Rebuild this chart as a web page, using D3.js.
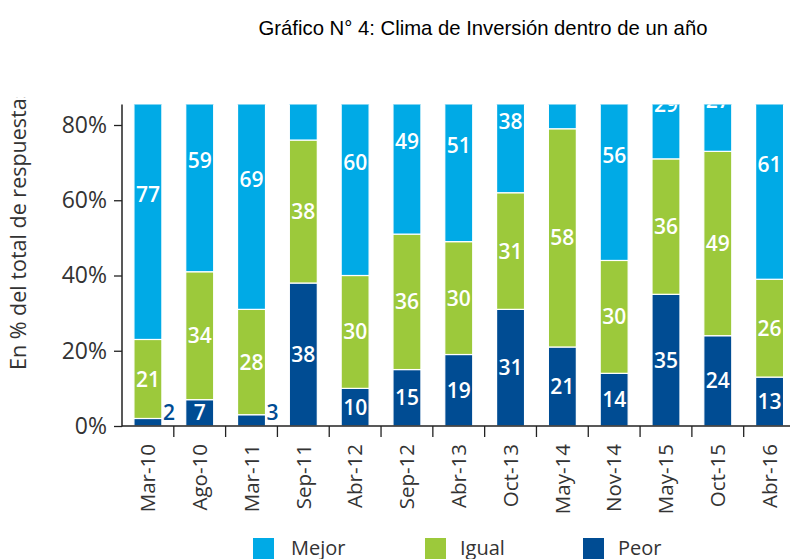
<!DOCTYPE html>
<html>
<head>
<meta charset="utf-8">
<style>
  body { margin: 0; background: #fff; }
  svg text { font-family: "Open Sans", "Noto Sans", sans-serif; }
  .title { font-family: "Liberation Sans", Arial, sans-serif !important; }
</style>
</head>
<body>
<svg id="chart" width="790" height="559"></svg>
<script src="https://cdn.jsdelivr.net/npm/d3@7"></script>
<script>
  // data
  var categories = ["Mar-10", "Ago-10", "Mar-11", "Sep-11", "Abr-12", "Sep-12", "Abr-13",
                    "Oct-13", "May-14", "Nov-14", "May-15", "Oct-15", "Abr-16"];
  var peor  = [2, 7, 3, 38, 10, 15, 19, 31, 21, 14, 35, 24, 13];
  var igual = [21, 34, 28, 38, 30, 36, 30, 31, 58, 30, 36, 49, 26];
  var mejor = [77, 59, 69, 24, 60, 49, 51, 38, 21, 56, 29, 27, 61];
  var seriesNames = ["Mejor", "Igual", "Peor"];
  var yTicks = [0, 20, 40, 60, 80];

  var colors = { Peor: "#004c93", Igual: "#9cc93b", Mejor: "#00aae6" };

  var svg = d3.select("#chart");

  var x = d3.scaleBand()
      .domain(categories)
      .range([122, 795.5])
      .paddingInner(0.46)
      .paddingOuter(0.23);

  var y = d3.scaleLinear()
      .domain([0, 100])
      .range([426, 426 - 376.25]);

  // stacked table, bottom to top: Peor, Igual, Mejor
  var rows = categories.map(function(c, i) {
      return { cat: c, Peor: peor[i], Igual: igual[i], Mejor: mejor[i] };
  });
  var stack = d3.stack().keys(["Peor", "Igual", "Mejor"])(rows);

  // title
  svg.append("text")
      .attr("class", "title")
      .attr("x", 483)
      .attr("y", 35)
      .attr("text-anchor", "middle")
      .attr("font-size", "20.3px")
      .attr("fill", "#000")
      .text("Gráfico N° 4: Clima de Inversión dentro de un año");

  var defs = svg.append("defs");
  defs.append("clipPath").attr("id", "plotclip")
    .append("rect").attr("x", 0).attr("y", 104.5).attr("width", 790).attr("height", 455);
  defs.append("clipPath").attr("id", "labclip")
    .append("rect").attr("x", 0).attr("y", 97).attr("width", 790).attr("height", 462);

  // y axis title (cut at the top like the reference)
  svg.append("g").attr("clip-path", "url(#labclip)")
    .append("text")
      .attr("transform", "translate(26,370) rotate(-90)")
      .attr("font-size", "21.5px")
      .attr("fill", "#333")
      .text("En % del total de respuestas");

  var plot = svg.append("g").attr("clip-path", "url(#plotclip)");

  // bars
  var layer = plot.selectAll(".layer")
      .data(stack)
    .enter().append("g")
      .attr("class", "layer")
      .attr("fill", function(d) { return colors[d.key]; });

  layer.selectAll("rect")
      .data(function(d) { return d; })
    .enter().append("rect")
      .attr("x", function(d) { return x(d.data.cat); })
      .attr("y", function(d) { return y(d[1]); })
      .attr("width", x.bandwidth())
      .attr("height", function(d) { return y(d[0]) - y(d[1]); })
      .attr("stroke", "#fff")
      .attr("stroke-width", 1.2);

  // value labels, small ones go outside the bar
  stack.forEach(function(s) {
      plot.selectAll(null)
          .data(s)
        .enter().append("text")
          .attr("font-size", "21px")
          .attr("font-weight", 600)
          .attr("fill", function(d) { return (d[1] - d[0]) < 5 ? colors.Peor : "#fff"; })
          .attr("text-anchor", function(d) { return (d[1] - d[0]) < 5 ? "start" : "middle"; })
          .attr("x", function(d) {
              return (d[1] - d[0]) < 5 ? x(d.data.cat) + x.bandwidth() + 1
                                       : x(d.data.cat) + x.bandwidth() / 2;
          })
          .attr("y", function(d) {
              return (d[1] - d[0]) < 5 ? 420 : y((d[0] + d[1]) / 2);
          })
          .attr("dy", function(d) { return (d[1] - d[0]) < 5 ? 0 : "0.36em"; })
          .text(function(d) { return d[1] - d[0]; });
  });

  // y axis
  var yAxis = svg.append("g")
      .attr("transform", "translate(122,0)")
      .call(d3.axisLeft(y).tickValues(yTicks).tickSize(8).tickPadding(7)
              .tickFormat(function(d) { return d + "%"; }));
  yAxis.select(".domain").attr("d", "M0,104.5V426.5");
  yAxis.selectAll("line").attr("stroke", "#222").attr("stroke-width", 1.3);
  yAxis.select(".domain").attr("stroke", "#222").attr("stroke-width", 1.5);
  yAxis.selectAll("text")
      .attr("font-family", "'Open Sans', sans-serif")
      .attr("font-size", "23px")
      .attr("fill", "#333");

  // x axis, ticks sit on band boundaries
  var step = x.step();
  var xAxis = svg.append("g")
      .attr("transform", "translate(0,426)")
      .call(d3.axisBottom(x).tickSize(11).tickPadding(8));
  xAxis.select(".domain").attr("d", "M122,0H790").attr("stroke", "#222").attr("stroke-width", 1.5);
  xAxis.selectAll(".tick line")
      .attr("x1", step / 2).attr("x2", step / 2)
      .attr("stroke", "#222").attr("stroke-width", 1.3);
  xAxis.selectAll(".tick text")
      .attr("font-family", "'Open Sans', sans-serif")
      .attr("font-size", "20.5px")
      .attr("fill", "#333")
      .attr("text-anchor", "end")
      .attr("transform", "rotate(-90)")
      .attr("x", -18)
      .attr("y", 0)
      .attr("dy", "0.35em");

  // legend
  var legendX = [253, 425, 583];
  var legend = svg.selectAll(".legend")
      .data(seriesNames)
    .enter().append("g")
      .attr("class", "legend")
      .attr("transform", function(d, i) { return "translate(" + legendX[i] + ",0)"; });
  legend.append("rect")
      .attr("x", 0).attr("y", 538)
      .attr("width", 21).attr("height", 24)
      .attr("fill", function(d) { return colors[d]; });
  legend.append("text")
      .attr("x", function(d, i) { return [38, 35, 35][i]; })
      .attr("y", 555)
      .attr("font-size", "20px")
      .attr("fill", "#333")
      .text(function(d) { return d; });
</script>
</body>
</html>
